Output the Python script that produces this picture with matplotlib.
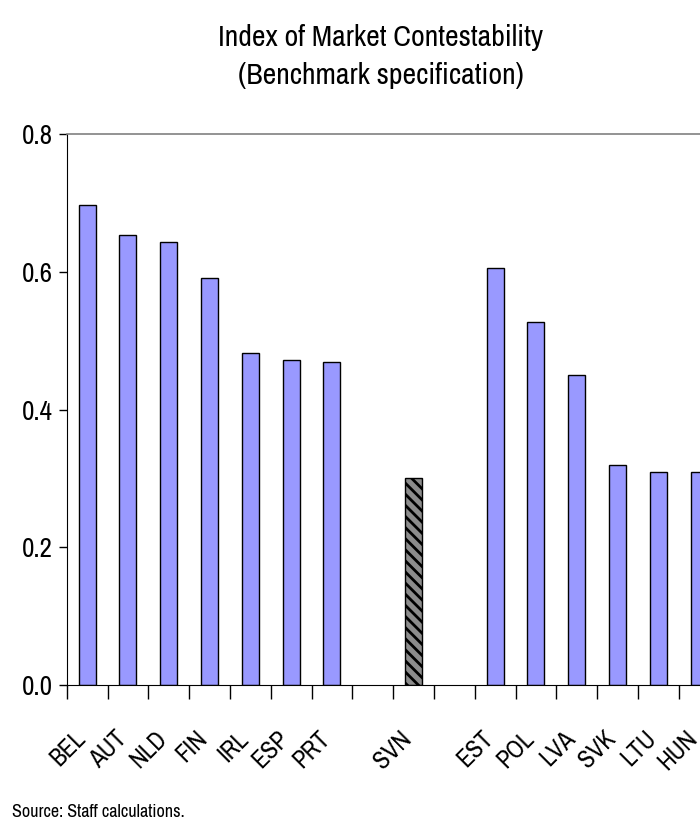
import matplotlib
matplotlib.use("Agg")
import matplotlib.pyplot as plt
import matplotlib.transforms as mtransforms
import numpy as np
from matplotlib import font_manager

fams = {f.name for f in font_manager.fontManager.ttflist}
prefs = ['Arial Narrow', 'Liberation Sans Narrow', 'Archivo Narrow', 'PT Sans Narrow',
         'Roboto Condensed', 'Pragati Narrow', 'Fira Sans Condensed',
         'IBM Plex Sans Condensed', 'Encode Sans Condensed', 'Liberation Sans']
FONT = next(p for p in prefs if p in fams)
plt.rcParams['font.family'] = [FONT, 'DejaVu Sans']
plt.rcParams['hatch.color'] = 'black'
plt.rcParams['hatch.linewidth'] = 2.0

categories = ["BEL", "AUT", "NLD", "FIN", "IRL", "ESP", "PRT", "", "SVN", "",
              "EST", "POL", "LVA", "SVK", "LTU", "HUN"]
values = [0.697, 0.654, 0.643, 0.591, 0.482, 0.472, 0.469, None, 0.300, None,
          0.606, 0.527, 0.450, 0.320, 0.310, 0.309]
highlight = "SVN"
yticks = [0.0, 0.2, 0.4, 0.6, 0.8]
ytick_labels = ["0.0", "0.2", "0.4", "0.6", "0.8"]
title = "Index of Market Contestability\n(Benchmark specification)"
source = "Source: Staff calculations."

fig = plt.figure(figsize=(7.0, 8.23), dpi=100)
ax = fig.add_axes([0.0953, 0.1677, 0.9326, 0.6691])

x = np.arange(len(categories))
for xi, cat, v in zip(x, categories, values):
    if v is None:
        continue
    if cat == highlight:
        ax.bar(xi, v, width=0.42, facecolor='#8c8c8c', edgecolor='black',
               linewidth=1.0, hatch='\\\\\\')
    else:
        ax.bar(xi, v, width=0.42, facecolor='#9999FF', edgecolor='black',
               linewidth=1.0)

ax.set_xlim(-0.5, len(categories) - 0.5)
ax.set_ylim(0, 0.8)
ax.set_yticks(yticks)
ax.set_yticklabels(ytick_labels, fontsize=19.5)
ax.tick_params(axis='y', direction='out', length=6, width=1, pad=4)

ax.set_xticks(x)
ax.set_xticklabels(categories, rotation=45, ha='right', va='top',
                   rotation_mode='anchor', fontsize=18)
ax.tick_params(axis='x', which='major', length=0, pad=30)
ax.set_xticks(np.arange(-0.5, len(categories), 1.0), minor=True)
ax.tick_params(axis='x', which='minor', direction='out', length=10, width=1)
shift = mtransforms.ScaledTranslation(-10 / 72.0, 0, fig.dpi_scale_trans)
for lbl in ax.get_xticklabels():
    lbl.set_transform(lbl.get_transform() + shift)

ax.spines['top'].set_color('#808080')
ax.spines['top'].set_linewidth(1.2)
ax.spines['right'].set_visible(False)
ax.spines['left'].set_color('black')
ax.spines['bottom'].set_color('black')

fig.text(0.544, 0.971, title, ha='center', va='top', fontsize=21.5, linespacing=1.5)
fig.text(0.017, 0.004, source, ha='left', va='bottom', fontsize=13)

fig.savefig("out.png", dpi=100)
